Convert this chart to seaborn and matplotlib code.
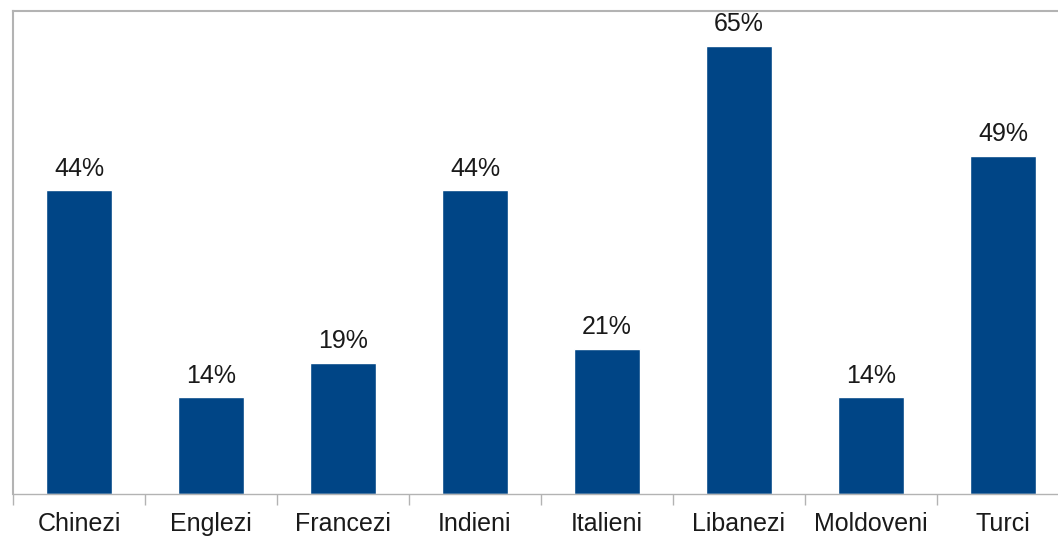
import matplotlib
matplotlib.use("Agg")
import matplotlib.pyplot as plt
import seaborn as sns
import pandas as pd

categories = ["Chinezi", "Englezi", "Francezi", "Indieni", "Italieni", "Libanezi", "Moldoveni", "Turci"]
values = [44, 14, 19, 44, 21, 65, 14, 49]

sns.set_theme(style="white")
plt.rcParams["font.family"] = ["Liberation Sans", "DejaVu Sans"]

df = pd.DataFrame({"grup": categories, "procent": values})

fig = plt.figure(figsize=(10.58, 5.39), dpi=100)
ax = fig.add_axes([13 / 1058, 45 / 539, 1056 / 1058, 483 / 539])

sns.barplot(data=df, x="grup", y="procent", color="#004586", saturation=1,
            width=0.5, ax=ax)

ax.set_ylim(0, 70)
ax.set_xlim(-0.5, len(categories) - 0.5)
ax.set_xlabel("")
ax.set_ylabel("")
ax.set_yticks([])

for i, v in enumerate(values):
    ax.text(i, v + 1.4, f"{v}%", ha="center", va="bottom", fontsize=18, color="#1a1a1a")

# category tick marks sit between the bars
ax.set_xticks([i - 0.5 for i in range(len(categories) + 1)], minor=False)
ax.set_xticklabels([])
ax.set_xticks(range(len(categories)), minor=True)
ax.set_xticklabels(categories, minor=True, fontsize=18, color="#1a1a1a")
ax.tick_params(axis="x", which="major", length=8, width=1, color="#b3b3b3", direction="out", bottom=True)
ax.tick_params(axis="x", which="minor", length=0, pad=13)

for side in ["top", "left"]:
    ax.spines[side].set_color("#b3b3b3")
    ax.spines[side].set_linewidth(1.5)
ax.spines["right"].set_visible(False)
ax.spines["bottom"].set_color("#b3b3b3")
ax.spines["bottom"].set_linewidth(1)

fig.savefig("out.png", dpi=100)
